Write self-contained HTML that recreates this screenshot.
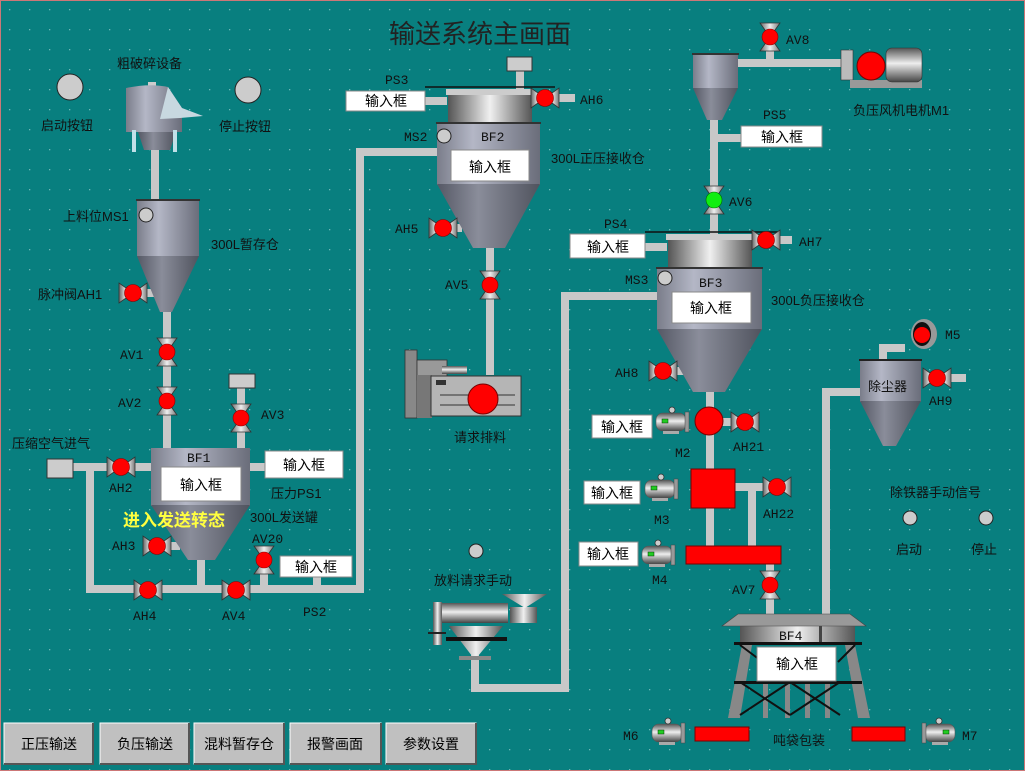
<!DOCTYPE html>
<html><head><meta charset="utf-8"><style>
html,body{margin:0;padding:0;background:#087f7f;}
svg{display:block;font-family:"Liberation Sans","Noto Sans CJK SC",sans-serif;}
.t{font-size:13px;fill:#111;}
.m{font-size:13px;fill:#111;font-family:"Liberation Mono","Noto Sans CJK SC",monospace;}
.p{stroke:#c8c8c8;stroke-width:8;fill:none;}
.bx{fill:#fff;stroke:#888;stroke-width:1;}
.bt{font-size:14px;fill:#000;text-anchor:middle;}
</style></head><body>
<svg width="1025" height="771" viewBox="0 0 1025 771" xmlns="http://www.w3.org/2000/svg">
<defs>
<pattern id="dots" width="20" height="20" patternUnits="userSpaceOnUse"><rect x="9" y="9" width="1.3" height="1.3" fill="#6fb9b9"/></pattern>
<linearGradient id="cyl" x1="0" x2="1"><stop offset="0" stop-color="#7a7d8a"/><stop offset="0.35" stop-color="#b4b7c6"/><stop offset="1" stop-color="#6a6d7a"/></linearGradient>
<linearGradient id="cone" x1="0" x2="1"><stop offset="0" stop-color="#555865"/><stop offset="0.4" stop-color="#8a8d9a"/><stop offset="1" stop-color="#50535e"/></linearGradient>
<linearGradient id="shiny" x1="0" x2="1"><stop offset="0" stop-color="#555"/><stop offset="0.5" stop-color="#f0f0f0"/><stop offset="1" stop-color="#555"/></linearGradient>
<linearGradient id="shv" x1="0" y1="0" x2="0" y2="1"><stop offset="0" stop-color="#555"/><stop offset="0.45" stop-color="#eee"/><stop offset="1" stop-color="#444"/></linearGradient>
<linearGradient id="tri" x1="0" x2="1"><stop offset="0" stop-color="#666"/><stop offset="0.5" stop-color="#eee"/><stop offset="1" stop-color="#777"/></linearGradient>
<g id="vh"><polygon points="-14,-10 -14,10 0,0" fill="url(#tri)" stroke="#333" stroke-width="0.8"/><polygon points="14,-10 14,10 0,0" fill="url(#tri)" stroke="#333" stroke-width="0.8"/><circle r="8.5" fill="#f00" stroke="#800" stroke-width="0.6"/></g>
<g id="vv"><polygon points="-10,-14 10,-14 0,0" fill="url(#tri)" stroke="#333" stroke-width="0.8"/><polygon points="-10,14 10,14 0,0" fill="url(#tri)" stroke="#333" stroke-width="0.8"/><circle r="8" fill="#f00" stroke="#800" stroke-width="0.6"/></g>
<g id="mot"><rect x="0" y="-9" width="30" height="18" rx="7" fill="url(#shv)" stroke="#555" stroke-width="0.6"/><rect x="29" y="-10" width="4" height="20" fill="#999" stroke="#444" stroke-width="0.5"/><rect x="6" y="-3" width="6" height="4" fill="#2c2" stroke="#030" stroke-width="0.5"/><circle cx="16" cy="-12" r="3" fill="#ccc" stroke="#333" stroke-width="0.8"/><rect x="7" y="9" width="16" height="3" fill="#aaa"/></g>
</defs>
<rect width="1025" height="771" fill="#087f7f"/>
<rect width="1025" height="771" fill="url(#dots)"/>
<rect x="0.5" y="0.5" width="1024" height="770" fill="none" stroke="#c77" stroke-width="1"/>

<!-- pipes -->
<path class="p" d="M155,150 V205"/>
<path class="p" d="M167,310 V452"/>
<path class="p" d="M241,385 V452"/>
<path class="p" d="M73,467 H152"/>
<path class="p" d="M250,467 H266"/>
<path class="p" d="M90,467 V589 H360 V152 H440"/>
<path class="p" d="M201,555 V589"/>
<path class="p" d="M264,560 V589"/>
<path class="p" d="M317,575 V589"/>
<path class="p" d="M140,293 H155"/><path class="p" d="M164,546 H180"/>
<path class="p" d="M520,70 V90"/><path class="p" d="M425,101 H447"/><path class="p" d="M555,98 H575"/><path class="p" d="M450,228 H462"/>
<path class="p" d="M490,246 V375"/>
<path class="p" d="M738,63 H845"/><path class="p" d="M770,45 V63"/>
<path class="p" d="M714,118 V236"/><path class="p" d="M714,138 H742"/>
<path class="p" d="M645,247 H667"/><path class="p" d="M775,240 H792"/><path class="p" d="M670,371 H685"/>
<path class="p" d="M565,688 H475 V655"/><path class="p" d="M658,296 H565 V692"/>
<path class="p" d="M710,390 V548"/><path class="p" d="M720,422 H755"/>
<path class="p" d="M735,487 H752 V548"/><path class="p" d="M752,487 H780"/>
<path class="p" d="M770,562 V618"/>
<path class="p" d="M826,618 V392 H862"/>
<path class="p" d="M883,362 V348 H905"/><path class="p" d="M945,378 H966"/>

<!-- title -->
<text x="480" y="43" font-size="26" text-anchor="middle" fill="#222">输送系统主画面</text>

<!-- crusher -->
<text class="t" x="117" y="68" font-size="14">粗破碎设备</text>
<circle cx="70" cy="87" r="13" fill="#ccc" stroke="#222"/>
<circle cx="248" cy="90" r="13" fill="#ccc" stroke="#222"/>
<text class="t" x="41" y="130" font-size="14">启动按钮</text>
<text class="t" x="219" y="131" font-size="14">停止按钮</text>
<rect x="148" y="82" width="8" height="6" fill="#ccc"/>
<path d="M126,88 Q150,83 168,87 L182,108 L182,132 L126,132 Z" fill="url(#cyl)"/>
<path d="M168,87 L182,108 L203,116 L180,118 L160,119 Z" fill="#c8d8e0"/>
<path d="M138,132 H176 L170,150 H144 Z" fill="url(#cone)"/>
<rect x="132" y="130" width="4" height="22" fill="#c0e0e8"/><rect x="173" y="130" width="4" height="22" fill="#c0e0e8"/>

<!-- 300L tank -->
<rect x="137" y="200" width="62" height="56" fill="url(#cyl)"/><rect x="136" y="199" width="64" height="2" fill="#333"/>
<polygon points="137,256 199,256 172,312 160,312" fill="url(#cone)"/>
<circle cx="146" cy="215" r="7" fill="#ccc" stroke="#222"/>
<text class="t" x="63" y="221" font-size="14">上料位MS1</text>
<text class="t" x="211" y="249" font-size="14">300L暂存仓</text>
<use href="#vh" x="133" y="293"/><text class="t" x="38" y="299" font-size="14">脉冲阀AH1</text>
<use href="#vv" x="167" y="352"/><text class="m" x="120" y="359">AV1</text>
<use href="#vv" x="167" y="401"/><text class="m" x="118" y="407">AV2</text>
<rect x="229" y="374" width="26" height="14" fill="#ccc" stroke="#333"/>
<use href="#vv" x="241" y="418"/><text class="m" x="261" y="419">AV3</text>

<!-- BF1 -->
<text class="t" x="12" y="448" font-size="14">压缩空气进气</text>
<rect x="47" y="459" width="26" height="19" fill="#ccc" stroke="#333"/>
<use href="#vh" x="121" y="467"/><text class="m" x="109" y="492">AH2</text>
<rect x="151" y="448" width="99" height="58" fill="url(#cyl)"/>
<polygon points="151,505 250,505 215,560 188,560" fill="url(#cone)"/>
<text class="m" x="187" y="462">BF1</text>
<rect class="bx" x="161" y="467" width="80" height="34"/><text class="bt" x="201" y="490">输入框</text>
<rect class="bx" x="265" y="451" width="78" height="27"/><text class="bt" x="304" y="470">输入框</text>
<text class="t" x="271" y="498" font-size="14">压力PS1</text>
<text class="t" x="250" y="522" font-size="14">300L发送罐</text>
<text x="123" y="526" font-size="17" font-weight="bold" fill="#ffff40">进入发送转态</text>
<use href="#vh" x="157" y="546"/><text class="m" x="112" y="550">AH3</text>
<use href="#vh" x="148" y="590"/><text class="m" x="133" y="620">AH4</text>
<use href="#vh" x="236" y="590"/><text class="m" x="222" y="620">AV4</text>
<use href="#vv" x="264" y="560"/><text class="m" x="252" y="543">AV20</text>
<rect class="bx" x="280" y="556" width="72" height="21"/><text class="bt" x="316" y="572">输入框</text>
<text class="m" x="303" y="616">PS2</text>

<!-- BF2 -->
<rect x="507" y="57" width="25" height="14" fill="#ccc" stroke="#333"/>
<line x1="425" y1="87" x2="555" y2="87" stroke="#111" stroke-width="1.5"/>
<rect x="446" y="89" width="86" height="6" fill="#ccc"/>
<rect x="448" y="95" width="84" height="28" fill="url(#shiny)"/>
<rect x="437" y="123" width="103" height="62" fill="url(#cyl)"/><rect x="436" y="122" width="105" height="2" fill="#333"/>
<polygon points="437,184 540,184 505,248 473,248" fill="url(#cone)"/>
<circle cx="444" cy="136" r="7" fill="#ccc" stroke="#222"/>
<text class="m" x="404" y="141">MS2</text><text class="m" x="481" y="141">BF2</text>
<rect class="bx" x="451" y="150" width="78" height="31"/><text class="bt" x="490" y="172">输入框</text>
<text class="m" x="385" y="84">PS3</text>
<rect class="bx" x="346" y="91" width="79" height="20"/><text class="bt" x="386" y="106">输入框</text>
<use href="#vh" x="545" y="98"/><text class="m" x="580" y="104">AH6</text>
<text class="t" x="551" y="163" font-size="14">300L正压接收仓</text>
<use href="#vh" x="443" y="228"/><text class="m" x="395" y="233">AH5</text>
<use href="#vv" x="490" y="285"/><text class="m" x="445" y="289">AV5</text>
<!-- machine -->
<rect x="405" y="350" width="12" height="68" fill="#888" stroke="#333" stroke-width="0.8"/>
<rect x="417" y="360" width="30" height="20" fill="#999" stroke="#333" stroke-width="0.8"/>
<rect x="442" y="366" width="25" height="8" fill="url(#shv)"/>
<polygon points="417,375 432,375 432,418 417,418" fill="#777"/>
<rect x="431" y="376" width="90" height="40" fill="#b5b5b5" stroke="#333"/>
<rect x="436" y="380" width="10" height="5" fill="#333"/>
<line x1="440" y1="395" x2="515" y2="395" stroke="#333"/><line x1="440" y1="405" x2="515" y2="405" stroke="#333"/>
<circle cx="483" cy="399" r="15" fill="#f00" stroke="#700"/>
<text class="t" x="454" y="442" font-size="14">请求排料</text>

<!-- right top -->
<rect x="693" y="54" width="45" height="34" fill="url(#cyl)"/><rect x="692" y="53" width="47" height="2" fill="#333"/>
<polygon points="693,88 738,88 722,120 707,120" fill="url(#cone)"/>
<use href="#vv" x="770" y="37"/><text class="m" x="786" y="44">AV8</text>
<rect x="841" y="50" width="12" height="30" fill="#bbb" stroke="#333" stroke-width="0.6"/>
<rect x="850" y="80" width="72" height="8" fill="#999"/>
<rect x="886" y="48" width="36" height="34" rx="6" fill="url(#shv)" stroke="#333" stroke-width="0.6"/>
<circle cx="871" cy="66" r="14" fill="#f00" stroke="#700"/>
<text class="t" x="853" y="115" font-size="14">负压风机电机M1</text>
<text class="m" x="763" y="119">PS5</text>
<rect class="bx" x="741" y="126" width="81" height="21"/><text class="bt" x="782" y="142">输入框</text>
<g transform="translate(714,200)"><polygon points="-10,-14 10,-14 0,0" fill="url(#tri)" stroke="#333" stroke-width="0.8"/><polygon points="-10,14 10,14 0,0" fill="url(#tri)" stroke="#333" stroke-width="0.8"/><circle r="8" fill="#1e1" stroke="#060" stroke-width="0.6"/></g>
<text class="m" x="729" y="206">AV6</text>

<!-- BF3 -->
<text class="m" x="604" y="228">PS4</text>
<line x1="645" y1="232" x2="778" y2="232" stroke="#111" stroke-width="1.5"/>
<rect x="666" y="234" width="86" height="6" fill="#ccc"/>
<rect x="668" y="240" width="84" height="28" fill="url(#shiny)"/>
<rect x="657" y="268" width="105" height="62" fill="url(#cyl)"/><rect x="656" y="267" width="107" height="2" fill="#333"/>
<polygon points="657,329 762,329 725,392 693,392" fill="url(#cone)"/>
<circle cx="665" cy="278" r="7" fill="#ccc" stroke="#222"/>
<text class="m" x="625" y="284">MS3</text><text class="m" x="699" y="287">BF3</text>
<rect class="bx" x="672" y="292" width="79" height="31"/><text class="bt" x="711" y="313">输入框</text>
<rect class="bx" x="570" y="234" width="75" height="24"/><text class="bt" x="608" y="252">输入框</text>
<use href="#vh" x="766" y="240"/><text class="m" x="799" y="246">AH7</text>
<text class="t" x="771" y="305" font-size="14">300L负压接收仓</text>
<use href="#vh" x="663" y="371"/><text class="m" x="615" y="377">AH8</text>

<!-- M2/M3/M4 -->
<rect class="bx" x="592" y="415" width="60" height="23"/><text class="bt" x="622" y="432">输入框</text>
<use href="#mot" x="656" y="422"/>
<circle cx="709" cy="421" r="14" fill="#f00" stroke="#700"/>
<use href="#vh" x="745" y="422"/><text class="m" x="675" y="457">M2</text><text class="m" x="733" y="451">AH21</text>
<rect class="bx" x="584" y="481" width="56" height="23"/><text class="bt" x="612" y="498">输入框</text>
<use href="#mot" x="645" y="489"/>
<rect x="691" y="469" width="44" height="39" fill="#f00" stroke="#700"/>
<use href="#vh" x="777" y="487"/><text class="m" x="654" y="524">M3</text><text class="m" x="763" y="518">AH22</text>
<rect class="bx" x="579" y="542" width="59" height="24"/><text class="bt" x="608" y="559">输入框</text>
<use href="#mot" x="642" y="555"/>
<rect x="686" y="546" width="95" height="18" fill="#f00" stroke="#700"/>
<text class="m" x="652" y="584">M4</text>
<use href="#vv" x="770" y="585"/><text class="m" x="732" y="594">AV7</text>

<!-- BF4 -->
<polygon points="742,645 752,645 740,718 728,718" fill="#888"/>
<polygon points="845,645 855,645 870,718 858,718" fill="#888"/>
<rect x="763" y="682" width="5" height="36" fill="#888"/><rect x="785" y="682" width="5" height="36" fill="#888"/><rect x="805" y="682" width="5" height="36" fill="#888"/><rect x="825" y="682" width="5" height="36" fill="#888"/>
<path d="M740,682 L790,715 M790,682 L740,715 M790,682 L840,715 M840,682 L790,715 M740,645 L760,660 M855,645 L838,662" stroke="#111" stroke-width="2" fill="none"/>
<rect x="740" y="626" width="115" height="19" fill="url(#shiny)"/>
<rect x="819" y="626" width="3" height="19" fill="#444"/>
<polygon points="738,614 850,614 866,626 722,626" fill="#999" stroke="#444" stroke-width="0.6"/>
<rect x="734" y="642" width="128" height="3" fill="#111"/><rect x="734" y="681" width="128" height="3" fill="#111"/>
<text class="m" x="779" y="640">BF4</text>
<rect class="bx" x="757" y="647" width="79" height="34"/><text class="bt" x="797" y="669">输入框</text>
<use href="#mot" x="652" y="733"/><rect x="695" y="727" width="54" height="14" fill="#f00" stroke="#700"/>
<text class="m" x="623" y="740">M6</text>
<text class="t" x="773" y="745" font-size="14">吨袋包装</text>
<rect x="852" y="727" width="53" height="14" fill="#f00" stroke="#700"/>
<g transform="translate(955,733) scale(-1,1)"><use href="#mot"/></g>
<text class="m" x="962" y="740">M7</text>

<!-- dust collector -->
<rect x="860" y="360" width="61" height="42" fill="url(#cyl)"/><rect x="859" y="359" width="63" height="2" fill="#222"/>
<polygon points="860,401 921,401 896,446 883,446" fill="url(#cone)"/>
<text class="t" x="868" y="391" font-size="14">除尘器</text>
<ellipse cx="924" cy="334" rx="13" ry="15" fill="#999"/>
<ellipse cx="922" cy="334" rx="9" ry="12" fill="#111"/>
<circle cx="922" cy="335" r="8" fill="#f00"/>
<text class="m" x="945" y="339">M5</text>
<use href="#vh" x="937" y="378"/><text class="m" x="929" y="405">AH9</text>
<text class="t" x="890" y="497" font-size="14">除铁器手动信号</text>
<circle cx="910" cy="518" r="7" fill="#ccc" stroke="#222"/><circle cx="986" cy="518" r="7" fill="#ccc" stroke="#222"/>
<text class="t" x="896" y="554" font-size="14">启动</text><text class="t" x="971" y="554" font-size="14">停止</text>

<!-- discharger -->
<circle cx="476" cy="551" r="7" fill="#ccc" stroke="#222"/>
<text class="t" x="434" y="585" font-size="14">放料请求手动</text>
<rect x="433" y="602" width="9" height="43" fill="url(#shiny)"/>
<rect x="428" y="632" width="18" height="2" fill="#222"/>
<rect x="442" y="603" width="66" height="20" fill="url(#shv)"/>
<rect x="510" y="607" width="27" height="16" fill="url(#shiny)"/>
<polygon points="502,594 547,594 525,608" fill="url(#shiny)"/>
<polygon points="449,626 503,626 478,656 472,656" fill="url(#shiny)"/>
<rect x="446" y="637" width="61" height="4" fill="#111"/>
<rect x="459" y="656" width="32" height="4" fill="#888"/>

<!-- buttons -->
<g>
<rect x="4" y="723" width="89" height="41" fill="#c0c0c0" stroke="#fff" stroke-width="1"/><path d="M93,723 V764 H4" stroke="#555" stroke-width="2" fill="none"/><text class="bt" x="49" y="749">正压输送</text>
<rect x="100" y="723" width="89" height="41" fill="#c0c0c0" stroke="#fff" stroke-width="1"/><path d="M189,723 V764 H100" stroke="#555" stroke-width="2" fill="none"/><text class="bt" x="145" y="749">负压输送</text>
<rect x="194" y="723" width="90" height="41" fill="#c0c0c0" stroke="#fff" stroke-width="1"/><path d="M284,723 V764 H194" stroke="#555" stroke-width="2" fill="none"/><text class="bt" x="239" y="749">混料暂存仓</text>
<rect x="290" y="723" width="91" height="41" fill="#c0c0c0" stroke="#fff" stroke-width="1"/><path d="M381,723 V764 H290" stroke="#555" stroke-width="2" fill="none"/><text class="bt" x="335" y="749">报警画面</text>
<rect x="386" y="723" width="90" height="41" fill="#c0c0c0" stroke="#fff" stroke-width="1"/><path d="M476,723 V764 H386" stroke="#555" stroke-width="2" fill="none"/><text class="bt" x="431" y="749">参数设置</text>
</g>
</svg>
</body></html>
